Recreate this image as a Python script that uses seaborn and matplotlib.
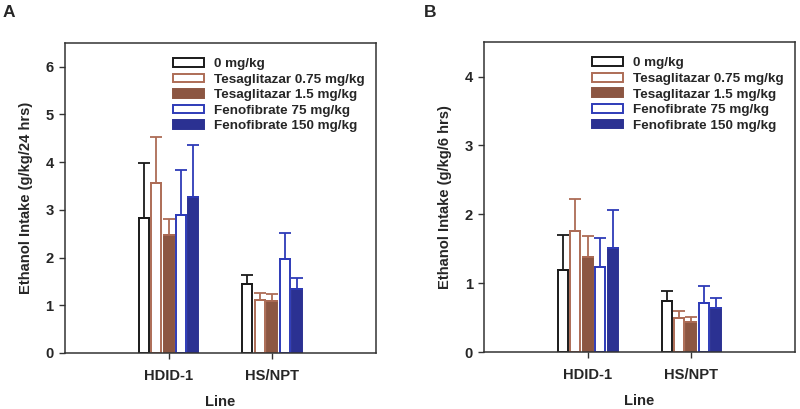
import pandas as pd
import matplotlib
matplotlib.use('Agg')
import matplotlib.pyplot as plt
import seaborn as sns

# data
lines = ['HDID-1', 'HS/NPT']
doses = ['0 mg/kg', 'Tesaglitazar 0.75 mg/kg', 'Tesaglitazar 1.5 mg/kg',
         'Fenofibrate 75 mg/kg', 'Fenofibrate 150 mg/kg']

# panel A, g/kg/24 hrs  (rows = dose, cols = line)
mean_a = [[2.82, 1.45], [3.57, 1.11], [2.47, 1.10], [2.90, 1.98], [3.28, 1.35]]
sem_a = [[1.17, 0.19], [0.96, 0.15], [0.33, 0.13], [0.93, 0.54], [1.07, 0.22]]
# panel B, g/kg/6 hrs
mean_b = [[1.19, 0.74], [1.76, 0.50], [1.38, 0.44], [1.24, 0.72], [1.51, 0.64]]
sem_b = [[0.51, 0.15], [0.47, 0.10], [0.31, 0.07], [0.42, 0.24], [0.55, 0.14]]

face = ['white', 'white', '#8c5642', 'white', '#2b3192']
edge = ['#1a1a1a', '#ad6c56', '#8c5642', '#2e3bb8', '#2b3192']
ebar = ['#1a1a1a', '#ad6c56', '#ad6c56', '#2e3bb8', '#2e3bb8']

sns.set_style('white')
plt.rcParams['font.family'] = ['Liberation Sans', 'DejaVu Sans']
plt.rcParams['font.weight'] = 'bold'


def to_df(mean, sem):
    rows = []
    for i, d in enumerate(doses):
        for j, l in enumerate(lines):
            rows.append({'Line': l, 'Dose': d, 'mean': mean[i][j], 'sem': sem[i][j]})
    return pd.DataFrame(rows)


def draw(ax, mean, sem, ylabel, ymax, yticks):
    df = to_df(mean, sem)
    sns.barplot(data=df, x='Line', y='mean', hue='Dose', order=lines, hue_order=doses,
                width=0.6, gap=0.2, errorbar=None, ax=ax, legend=False)
    bars = list(ax.containers)
    for k, cont in enumerate(bars):
        for j, p in enumerate(cont.patches):
            p.set_facecolor(face[k])
            p.set_edgecolor(edge[k])
            p.set_linewidth(1.4)
            cx = p.get_x() + p.get_width() / 2
            ax.errorbar(cx, p.get_height(), yerr=[[0], [sem[k][j]]], fmt='none',
                        ecolor=ebar[k], elinewidth=1.3, capsize=4, capthick=1.3, zorder=1)
    ax.legend(bars, doses, loc='upper left', bbox_to_anchor=(0.33, 0.968),
              frameon=False, fontsize=9.7, handlelength=2.3, handleheight=0.6,
              labelspacing=0.26, handletextpad=0.75, borderaxespad=0)
    ax.set_xlim(-1, 2)
    ax.set_ylim(0, ymax)
    ax.set_yticks(yticks)
    ax.set_ylabel(ylabel, fontsize=10.6, fontweight='bold', labelpad=9)
    ax.set_xlabel('Line', fontsize=10.6, fontweight='bold')
    ax.xaxis.set_label_coords(0.5, -0.136)
    ax.tick_params(axis='both', direction='out', length=4.5, width=1, labelsize=10.6,
                   bottom=True, left=True, color='#333333')
    ax.tick_params(axis='x', pad=7)
    for s in ax.spines.values():
        s.set_linewidth(1.1)
        s.set_color('#333333')
    for t in ax.get_xticklabels() + ax.get_yticklabels():
        t.set_fontweight('bold')


fig = plt.figure(figsize=(8, 4.09), dpi=100)
ax1 = fig.add_axes([0.081, 0.137, 0.389, 0.758])
ax2 = fig.add_axes([0.605, 0.139, 0.389, 0.758])

draw(ax1, mean_a, sem_a, 'Ethanol Intake (g/kg/24 hrs)', 6.5, range(0, 7))
draw(ax2, mean_b, sem_b, 'Ethanol Intake (g/kg/6 hrs)', 4.5, range(0, 5))

fig.text(0.003, 0.988, 'A', fontsize=12.5, fontweight='bold', va='top')
fig.text(0.53, 0.988, 'B', fontsize=12.5, fontweight='bold', va='top')

fig.savefig('out.png', dpi=100)
